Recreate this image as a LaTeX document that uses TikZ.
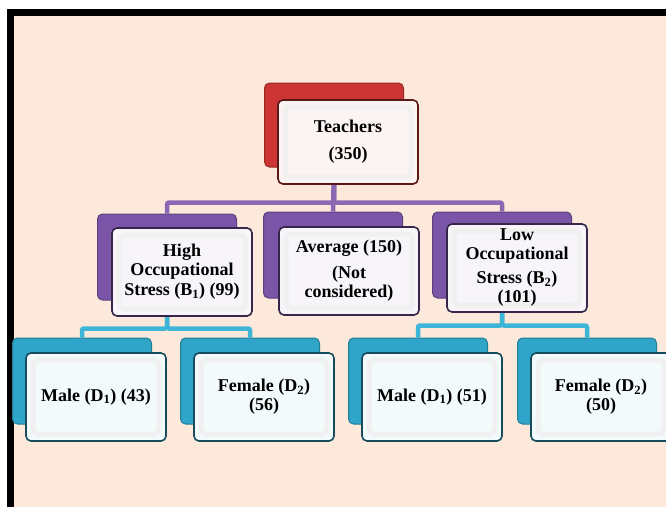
\documentclass[tikz,border=0pt]{standalone}
\usepackage{fontspec}
\setmainfont{Liberation Serif}
\usetikzlibrary{positioning}
\definecolor{peach}{HTML}{FCE9DB}
\definecolor{tred}{HTML}{CC3533}
\definecolor{tpurple}{HTML}{7B55A8}
\definecolor{tcyan}{HTML}{2FA6C9}
\definecolor{tlink}{HTML}{8B68B3}
\definecolor{tlinkc}{HTML}{3DB5D6}

\begin{document}
\begin{tikzpicture}[x=1pt,y=-1pt,
	font=\fontsize{18}{19}\selectfont\bfseries,
	backbox/.style={rectangle,rounded corners=5pt,minimum width=139pt,minimum height=86pt,fill=#1,draw=#1!75!black,line width=1pt},
	frontbox/.style={rectangle,rounded corners=5pt,minimum width=140pt,minimum height=88pt,fill=white!94!#1,draw=#1!45!black,line width=1.6pt,align=center,inner sep=2pt,
		path picture={\draw[black!6,line width=5pt] ([shift={(7pt,-7pt)}]path picture bounding box.north west) rectangle ([shift={(-7pt,7pt)}]path picture bounding box.south east);}},
	link/.style={line width=4.5pt,rounded corners=2pt,draw=#1}]
	\useasboundingbox (0,0) rectangle (666,506);
	\clip (0,0) rectangle (666,506);
	\draw[line width=7pt,fill=peach] (10.5,12) rectangle (690,530);
	% back boxes
	\node[backbox=tred,minimum height=84pt] (tb) at (334,125) {};
	\node[backbox=tpurple] (b1b) at (167,257) {};
	\node[backbox=tpurple] (avb) at (333,255) {};
	\node[backbox=tpurple] (b2b) at (502,255) {};
	\node[backbox=tcyan] (m1b) at (82,381) {};
	\node[backbox=tcyan] (f1b) at (250,381) {};
	\node[backbox=tcyan] (m2b) at (418,381) {};
	\node[backbox=tcyan] (f2b) at (587,381) {};
	% links
	\draw[link=tlink] (tb.south) -- ++(0,35) -| (b1b.north);
	\draw[link=tlink] (tb.south) -- ++(0,35) -| (b2b.north);
	\draw[link=tlink] (tb.south) -- (avb.north);
	\draw[link=tlinkc] (b1b.south) -- ++(0,28) -| (m1b.north);
	\draw[link=tlinkc] (b1b.south) -- ++(0,28) -| (f1b.north);
	\draw[link=tlinkc] (b2b.south) -- ++(0,27) -| (m2b.north);
	\draw[link=tlinkc] (b2b.south) -- ++(0,27) -| (f2b.north);
	% front boxes
	\node[frontbox=tred,minimum height=84pt] (t) at ([shift={(14,17)}]tb) {Teachers\\[8pt](350)};
	\node[frontbox=tpurple] (b1) at ([shift={(15,15)}]b1b) {High\\Occupational\\[1pt]Stress (B\textsubscript{1}) (99)};
	\node[frontbox=tpurple] (av) at ([shift={(16,16)}]avb) {Average (150)\\[7pt](Not\\considered)};
	\node[frontbox=tpurple] (b2) at ([shift={(15,13)}]b2b) {Low\\Occupational\\[5pt]Stress (B\textsubscript{2})\\[0pt](101)};
	\node[frontbox=tcyan] (m1) at ([shift={(14,16)}]m1b) {Male (D\textsubscript{1}) (43)};
	\node[frontbox=tcyan] (f1) at ([shift={(14,16)}]f1b) {Female (D\textsubscript{2})\\(56)};
	\node[frontbox=tcyan] (m2) at ([shift={(14,16)}]m2b) {Male (D\textsubscript{1}) (51)};
	\node[frontbox=tcyan] (f2) at ([shift={(14,16)}]f2b) {Female (D\textsubscript{2})\\(50)};
\end{tikzpicture}
\end{document}
